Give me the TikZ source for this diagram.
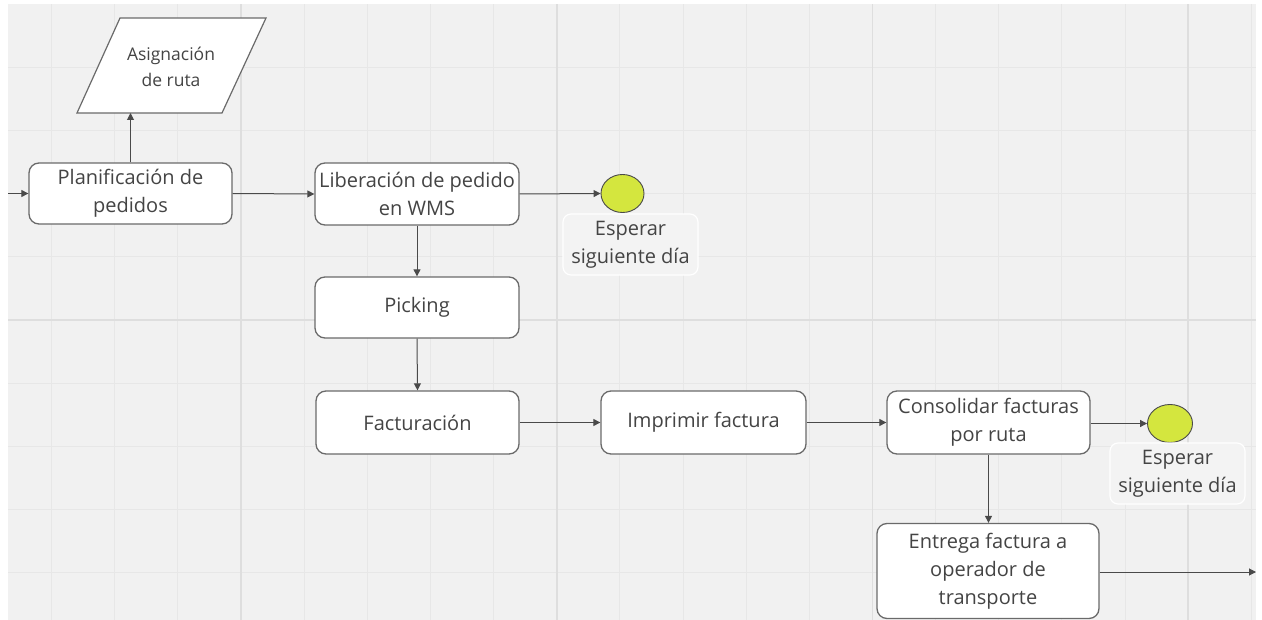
\documentclass[tikz,border=0pt]{standalone}
\usepackage{fontspec}
\setmainfont{Open Sans}
\usetikzlibrary{arrows.meta,shapes.geometric}
\definecolor{canvas}{HTML}{F1F1F1}
\definecolor{gridminor}{HTML}{E7E7E7}
\definecolor{gridmajor}{HTML}{DEDEDE}
\definecolor{edge}{HTML}{6A6A6A}
\definecolor{ink}{HTML}{444444}
\definecolor{lime}{HTML}{D4E63E}
\definecolor{wire}{HTML}{4A4A4A}
\definecolor{notefill}{HTML}{F3F3F3}

\begin{document}
\begin{tikzpicture}[x=1pt,y=-1pt,
  process/.style={draw=edge, line width=1.3pt, fill=white, rounded corners=10pt,
    align=center, text=ink, font=\fontsize{20}{28}\selectfont, inner sep=0pt},
  waitdot/.style={ellipse, draw=wire, line width=0.9pt, fill=lime, inner sep=0pt,
    minimum width=43pt, minimum height=38pt},
  note/.style={draw=white, line width=1.2pt, fill=notefill, rounded corners=8pt,
    align=center, text=ink, font=\fontsize{20}{28}\selectfont, inner sep=0pt,
    minimum width=135pt, minimum height=61pt},
  flow/.style={draw=wire, line width=1pt, -{Triangle[length=7pt,width=7pt]}}
]
% page and canvas
\useasboundingbox (0,0) rectangle (1262,620);
\fill[white] (0,0) rectangle (1262,620);
\fill[canvas] (8,4.3) rectangle (1256,620);
% minor grid
\foreach \i in {0,...,19} {
  \draw[gridminor, line width=1pt] ({51.7+63.14*\i},4.3) -- ({51.7+63.14*\i},620);
}
\foreach \j in {1,...,9} {
  \draw[gridminor, line width=1pt] (8,{4.3+63.14*\j}) -- (1256,{4.3+63.14*\j});
}
% major grid
\foreach \i in {0,...,3} {
  \draw[gridmajor, line width=1.6pt] ({241.1+315.7*\i},4.3) -- ({241.1+315.7*\i},620);
}
\draw[gridmajor, line width=1.6pt] (8,320) -- (1256,320);

% route assignment (data parallelogram)
\draw[edge, line width=1.2pt, fill=white]
  (120,18) -- (266,18) -- (222,113) -- (77,113) -- cycle;
\node[text=ink, align=center, font=\fontsize{17.5}{26}\selectfont] (asig) at (171,67)
  {Asignación\\de ruta};
\coordinate (asigbot) at (150,113);

% process steps
\node[process, minimum width=203pt, minimum height=61pt] (plan) at (130.5,193.5)
  {Planificación de\\pedidos};
\node[process, minimum width=204pt, minimum height=62pt] (lib) at (417,194)
  {Liberación de pedido\\en WMS};
\node[process, minimum width=204pt, minimum height=61pt] (pick) at (417,307.5)
  {Picking};
\node[process, minimum width=203pt, minimum height=63pt] (fact) at (417.5,422.5)
  {Facturación};
\node[process, minimum width=205pt, minimum height=63pt] (impr) at (703.5,422.5)
  {Imprimir factura};
\node[process, minimum width=203pt, minimum height=63pt] (cons) at (988.5,422.5)
  {Consolidar facturas\\por ruta};
\node[process, minimum width=222pt, minimum height=95pt] (entr) at (988,571)
  {Entrega factura a\\operador de\\transporte};

% wait events
\node[waitdot] (wait1) at (622.5,193.5) {};
\node[note] (note1) at (630.5,244.5) {Esperar\\siguiente día};
\node[waitdot, minimum width=45pt] (wait2) at (1170,423.5) {};
\node[note] (note2) at (1177.5,473.5) {Esperar\\siguiente día};

% loose ends
\coordinate (start) at (8,193.5);
\coordinate (finish) at (1256,572);

% connectors
\draw[flow] (start) -- (plan.west);
\draw[flow] (plan.north) -- (plan.north |- asigbot);
\draw[flow] (plan.east) -- (lib.west);
\draw[flow] (lib.east) -- (wait1.west);
\draw[flow] (lib.south) -- (pick.north);
\draw[flow] (pick.south) -- (fact.north);
\draw[flow] (fact.east) -- (impr.west);
\draw[flow] (impr.east) -- (cons.west);
\draw[flow] (cons.east |- wait2.west) -- (wait2.west);
\draw[flow] (cons.south) -- (cons.south |- entr.north);
\draw[flow] (entr.east |- finish) -- (finish);
\end{tikzpicture}
\end{document}
